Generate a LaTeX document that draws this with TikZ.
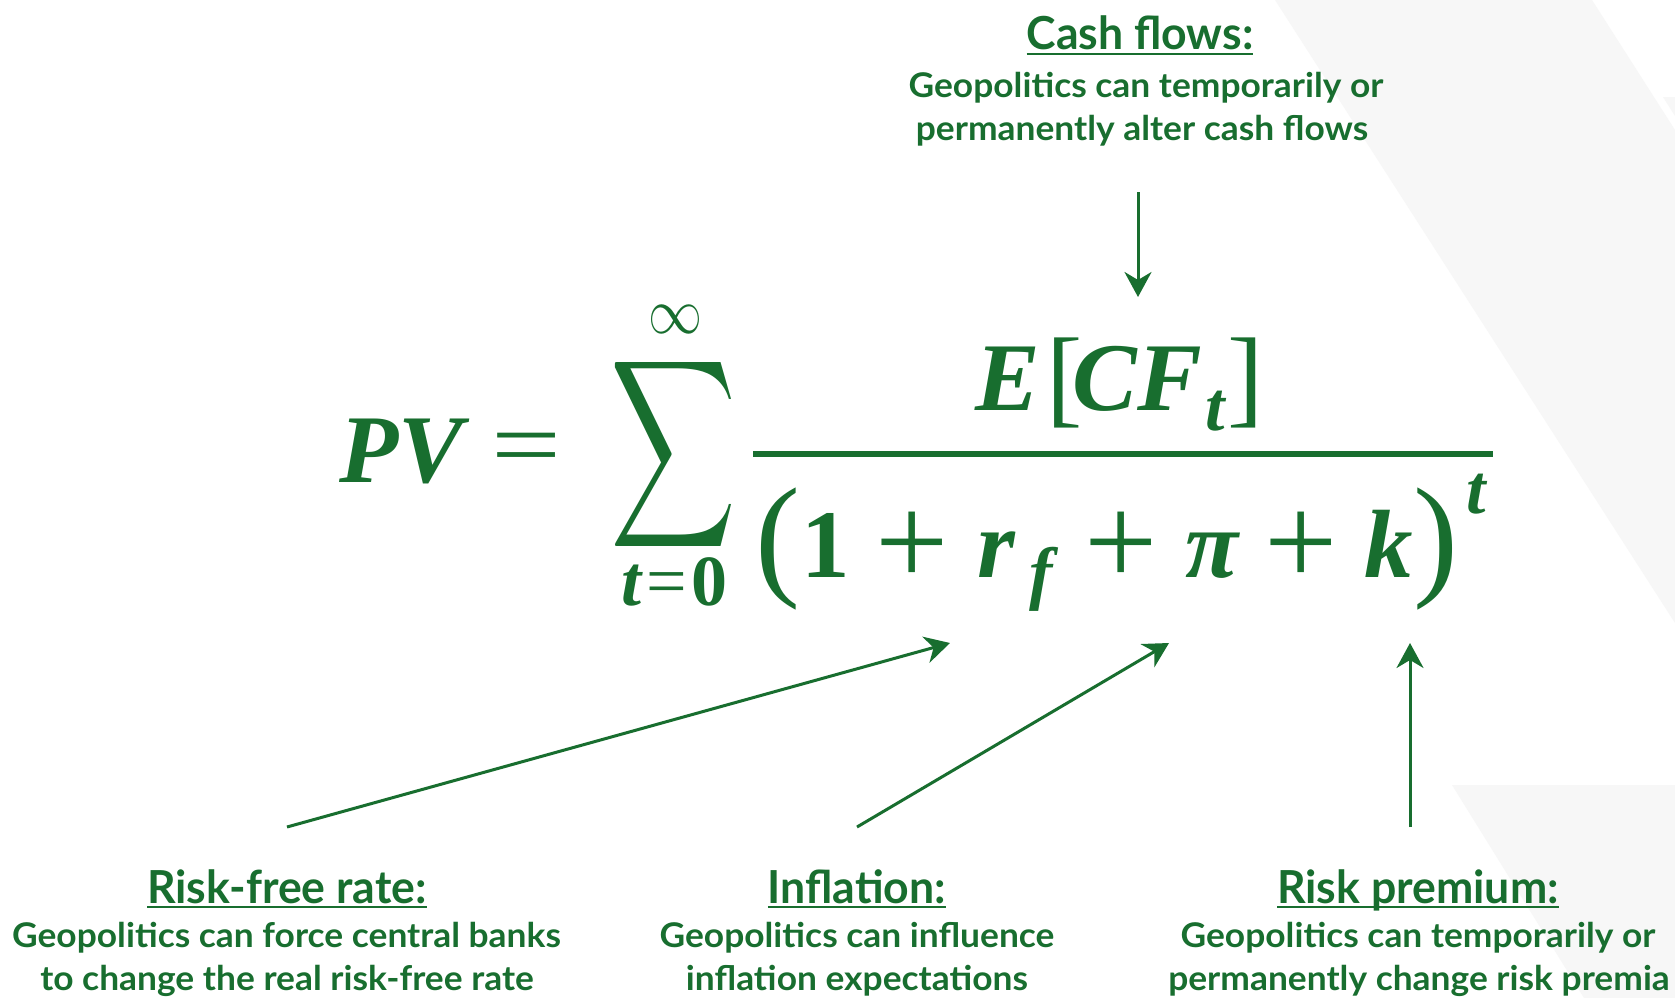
\documentclass[tikz,border=0pt]{standalone}
\usepackage{fontspec}
\usepackage{graphicx}
\usetikzlibrary{arrows.meta}
\setmainfont{Lato}[FakeStretch=1.04]
\newfontfamily\ttlfont{Lato}[FakeStretch=0.98]
\newfontfamily\mathserif{Liberation Serif}
\newcommand\fsz[1]{\fontsize{#1}{#1}\selectfont}
\definecolor{dkgreen}{RGB}{24,110,47}
\definecolor{bggray}{RGB}{247,247,247}
\tikzset{
  gtxt/.style={text=dkgreen, inner sep=0pt, outer sep=0pt},
  bodytxt/.style={gtxt, font=\bfseries\fsz{34}, anchor=base},
  ttltxt/.style={gtxt, font=\ttlfont\bfseries\fsz{45.5}, anchor=base},
  mbi/.style={gtxt, font=\mathserif\bfseries\itshape\fsz{97}, anchor=base},
  mbismall/.style={gtxt, font=\mathserif\bfseries\itshape\fsz{70}, anchor=base},
  mplus/.style={gtxt, font=\mathserif\fsz{130}, anchor=center},
  mbf/.style={gtxt, font=\mathserif\bfseries\fsz{97}, anchor=base},
  uline/.style={draw=dkgreen, line width=2.5pt},
  arr/.style={draw=dkgreen, line width=3pt, -{Stealth[length=25pt,width=27pt,inset=8pt]}},
  bgshape/.style={fill=bggray, draw=none}
}
\begin{document}
\begin{tikzpicture}[x=1pt,y=-1pt]
\path[use as bounding box, fill=white] (0,0) rectangle (1675,998);
% background shapes
\fill[bgshape] (1275,0) -- (1592,0) -- (1675,130) -- (1675,623) -- cycle;
\fill[bgshape] (1663,97) -- (1675,97) -- (1675,116) -- cycle;
\fill[bgshape] (1452,785) -- (1675,785) -- (1675,998) -- (1584,998) -- cycle;

% formula
\node[mbi] (pv) at (401,482) {PV};
\node[gtxt, font=\mathserif\fsz{97}, anchor=center] (eq) at (527,455.5) {\scalebox{1.28}[1]{=}};
\node[gtxt] (sum) at (673.5,455) {\resizebox{126pt}{138pt}{$\displaystyle\sum$}};
\node[gtxt] (inf) at (675,319) {\resizebox{54pt}{28pt}{$\infty$}};
\node[gtxt, anchor=base, font=\mathserif\fsz{72}] (lim) at (674.5,605) {{\bfseries\itshape t}\hspace{5pt}=\hspace{5pt}{\bfseries 0}};
% numerator
\node[mbi] (nE) at (1008,410) {E};
\node[gtxt, font=\mathserif\fsz{109}] (nlb) at (1065,382.5) {[};
\node[mbi] (nC) at (1105,410) {C};
\node[mbi] (nF) at (1169.5,410) {F};
\node[mbismall] (nt) at (1215,430) {t};
\node[gtxt, font=\mathserif\fsz{109}] (nrb) at (1246,382.5) {]};
% bar
\coordinate (barL) at (753,454);
\coordinate (barR) at (1493,454);
\draw[draw=dkgreen, line width=6.5pt] (barL) -- (barR);
% denominator
\node[gtxt, font=\mathserif\fsz{135}] (lp) at (778,549.5) {(};
\node[mbf] (one) at (826,577) {1};
\node[mplus] (p1) at (912,549) {+};
\node[mbi] (r) at (996,577) {r};
\node[mbismall] (f) at (1041,596) {f};
\node[mplus] (p2) at (1121.5,549) {+};
\node[mbi] (pi) at (1212,577) {π};
\node[mplus] (p3) at (1301.5,549) {+};
\node[mbi] (k) at (1389,577) {k};
\node[gtxt, font=\mathserif\fsz{135}] (rp) at (1436,549.5) {)};
\node[mbismall] (sup) at (1476.5,513) {t};

% top label
\node[ttltxt] (cfT) at (1140,50) {Cash flows:};
\draw[uline] ([yshift=-4pt]cfT.base west) -- ([yshift=-4pt]cfT.base east);
\node[bodytxt] (cfA) at (1146,97) {Geopolitics can temporarily or};
\node[bodytxt] (cfB) at (1142,140) {permanently alter cash flows};

% bottom labels
\node[ttltxt] (rfT) at (287,903) {Risk-free rate:};
\draw[uline] ([yshift=-4pt]rfT.base west) -- ([yshift=-4pt]rfT.base east);
\node[bodytxt] (rfA) at (286.5,947) {Geopolitics can force central banks};
\node[bodytxt] (rfB) at (287,990) {to change the real risk-free rate};

\node[ttltxt] (inT) at (857,903) {Inflation:};
\draw[uline] ([yshift=-4pt]inT.base west) -- ([yshift=-4pt]inT.base east);
\node[bodytxt] (inA) at (857,947) {Geopolitics can influence};
\node[bodytxt] (inB) at (857,990) {inflation expectations};

\node[ttltxt] (rpT) at (1418,903) {Risk premium:};
\draw[uline] ([yshift=-4pt]rpT.base west) -- ([yshift=-4pt]rpT.base east);
\node[bodytxt] (rpA) at (1418,947) {Geopolitics can temporarily or};
\node[bodytxt] (rpB) at (1419,990) {permanently change risk premia};

% arrows
\coordinate (cfS) at (1138,192);
\coordinate (cfE) at (1138,297);
\coordinate (rfS) at (287,827);
\coordinate (rfE) at (950,643);
\coordinate (inS) at (857,827);
\coordinate (inE) at (1169,643);
\coordinate (rpS) at (1410,827);
\coordinate (rpE) at (1410,643);
\draw[arr] (cfS) -- (cfE);
\draw[arr] (rfS) -- (rfE);
\draw[arr] (inS) -- (inE);
\draw[arr] (rpS) -- (rpE);
\end{tikzpicture}
\end{document}
